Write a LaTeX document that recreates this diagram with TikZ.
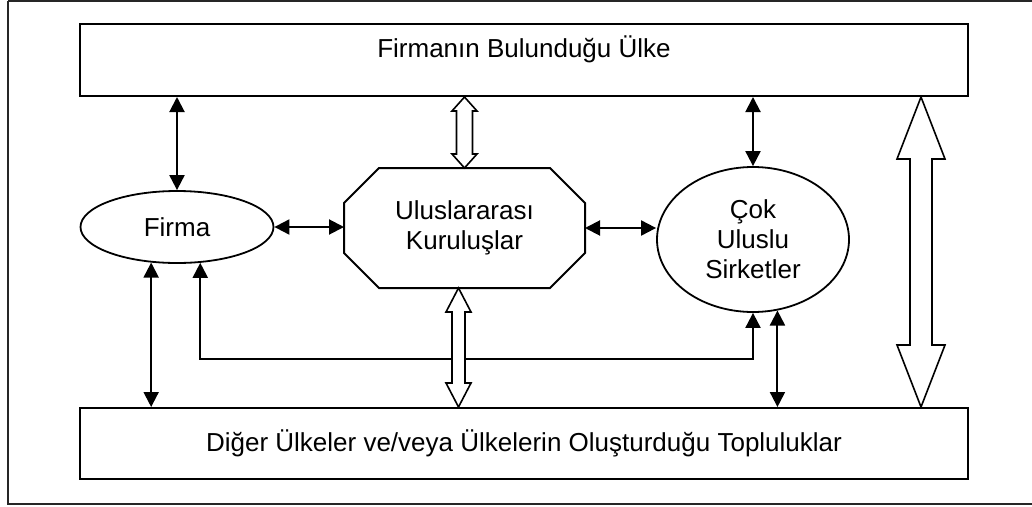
\documentclass[tikz,border=0pt]{standalone}
\usepackage{fontspec}
\setmainfont{Liberation Sans}
\usetikzlibrary{shapes.geometric,arrows.meta,calc}
\tikzset{
  boxnode/.style={draw, line width=2pt, rectangle, align=center, inner sep=0pt},
  ellnode/.style={draw, line width=1.8pt, ellipse, align=center, inner sep=0pt},
  arr/.style={line width=2pt, {Triangle[length=15pt,width=15pt]}-{Triangle[length=15pt,width=15pt]}},
  hollow/.style={draw, line width=1.6pt, fill=white, line join=miter},
  frame/.style={draw=black!85, line width=2pt},
}
\newcommand{\hollowdbl}[5]{%
  \draw[hollow] let \p1=(#1), \p2=(#2) in
   (\x1,\y1) -- (\x1+#4pt,\y1-#5pt) -- (\x1+#3pt,\y1-#5pt) -- (\x1+#3pt,\y2+#5pt)
   -- (\x1+#4pt,\y2+#5pt) -- (\x1,\y2) -- (\x1-#4pt,\y2+#5pt) -- (\x1-#3pt,\y2+#5pt)
   -- (\x1-#3pt,\y1-#5pt) -- (\x1-#4pt,\y1-#5pt) -- cycle;}
\begin{document}
\begin{tikzpicture}[x=1pt,y=-1pt,font=\fontsize{26}{30}\selectfont]
\useasboundingbox (0,0) rectangle (1032,506);
\draw[frame] (8,1) -- (1040,1) (8,1) -- (8,504) -- (1040,504);
% boxes
\node[boxnode, minimum width=888pt, minimum height=72pt, text depth=26pt] (top) at (524,60) {Firmanın Bulunduğu Ülke};
\node[boxnode, minimum width=888pt, minimum height=71pt] (bot) at (524,443.5) {Diğer Ülkeler ve/veya Ülkelerin Oluşturduğu Topluluklar};
% ellipses
\node[ellnode, minimum width=193pt, minimum height=72pt] (firma) at (177,227) {Firma};
\node[ellnode, minimum width=192pt, minimum height=145pt] (cok) at (753,239.5) {Çok\\Uluslu\\Sirketler};
% octagon
\node[minimum width=241pt, minimum height=120pt, inner sep=0pt, outer sep=0pt, align=center] (oct) at (464.5,228) {Uluslararası\\Kuruluşlar};
\draw[line width=2pt, line join=miter] ([xshift=35pt]oct.north west) -- ([xshift=-35pt]oct.north east)
  -- ([yshift=-35pt]oct.north east) -- ([yshift=35pt]oct.south east)
  -- ([xshift=-35pt]oct.south east) -- ([xshift=35pt]oct.south west)
  -- ([yshift=35pt]oct.south west) -- ([yshift=-35pt]oct.north west) -- cycle;
% solid double arrows
\draw[arr] (firma.north |- top.south) -- (firma.north);
\draw[arr] (cok.north |- top.south) -- (cok.north);
\draw[arr] (firma.east) -- (firma.east -| oct.west);
\draw[arr] (oct.east) -- (oct.east -| cok.west);
\draw[arr] (firma.234) -- (firma.234 |- bot.north);
\draw[arr] (cok.289) -- (cok.289 |- bot.north);
\draw[arr] (firma.303) -- (firma.303 |- 0,359) -| (cok.south);
% hollow arrows
\coordinate (h1a) at (oct.north |- top.south);
\hollowdbl{h1a}{oct.north}{8}{12.5}{14}
\coordinate (h2a) at ([xshift=-6pt]oct.south);
\coordinate (h2b) at (h2a |- bot.north);
\hollowdbl{h2a}{h2b}{6.5}{12.5}{24}
\coordinate (h3a) at ([xshift=-48pt]top.south east);
\coordinate (h3b) at ([xshift=-48pt]bot.north east);
\hollowdbl{h3a}{h3b}{11}{24}{62}
\end{tikzpicture}
\end{document}
